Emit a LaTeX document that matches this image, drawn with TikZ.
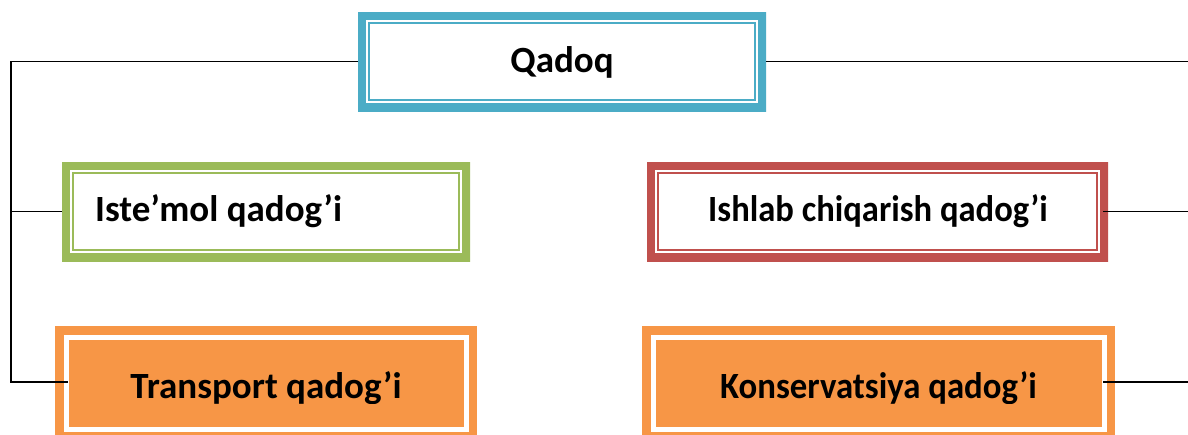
\documentclass[tikz,border=0pt]{standalone}
\usepackage{fontspec}
\setmainfont{Carlito}
\definecolor{cTeal}{HTML}{4BACC6}
\definecolor{cGreen}{HTML}{9BBB59}
\definecolor{cRed}{HTML}{C0504D}
\definecolor{cOrange}{HTML}{F79646}
\newcommand\myhs[2]{\scalebox{#1}[1]{#2}}
\begin{document}
\begin{tikzpicture}[x=1pt,y=-1pt,
  box/.style={inner sep=0pt,outer sep=0pt,minimum width=#1},
  dbl/.style={fill=white,minimum height=99pt,path picture={
    \draw[#1,line width=16pt] (path picture bounding box.north west) rectangle (path picture bounding box.south east);
    \draw[#1,line width=2pt] ([shift={(11pt,-11pt)}]path picture bounding box.north west) rectangle ([shift={(-11pt,11pt)}]path picture bounding box.south east);
  }},
  obox/.style={fill=cOrange,minimum height=114pt,path picture={
    \draw[white,line width=5pt] ([shift={(11pt,-11pt)}]path picture bounding box.north west) rectangle ([shift={(-11pt,11pt)}]path picture bounding box.south east);
  }},
  lbl/.style={anchor=base,inner sep=0pt,font=\fontsize{37}{40}\selectfont\bfseries},
  conn/.style={draw=black,line width=1.5pt}]
\clip (0,0) rectangle (1188,434);
\fill[white] (0,0) rectangle (1188,434);
% boxes
\node[box=408pt,dbl=cTeal] (qadoq) at (562,61.5) {};
\node[box=408pt,dbl=cGreen] (ist) at (266,211.5) {};
\node[box=461pt,dbl=cRed] (ish) at (877.5,211.5) {};
\node[box=422pt,obox] (trans) at (266,383) {};
\node[box=473pt,obox] (kons) at (878.5,383) {};
% labels
\node[lbl] (qadoqT) at (562,72) {Qadoq};
\node[lbl,anchor=base west] (istT) at (95,221) {Iste’mol qadog’i};
\node[lbl] (ishT) at (878,221) {\myhs{0.935}{Ishlab chiqarish qadog’i}};
\begin{scope}
\clip (0,0) rectangle (1188,403);
\node[lbl] (transT) at (266,398) {Transport qadog’i};
\node[lbl] (konsT) at (878.5,398) {\myhs{0.94}{Konservatsiya qadog’i}};
\end{scope}
% connectors
\coordinate (Lb) at (11,382);
\coordinate (Rb) at (1188,382);
\coordinate (Redge) at (1188,0);
\draw[conn] (qadoq.west) -| (Lb) -- ([xshift=13pt]Lb -| trans.west);
\draw[conn] (ist.west) -- (ist.west -| Lb);
\draw[conn] (qadoq.east) -- (qadoq.east -| Redge);
\draw[conn] ([xshift=-5pt]ish.east) -- (ish.east -| Redge);
\draw[conn] ([xshift=-12pt]kons.east |- Rb) -- (Rb);
\end{tikzpicture}
\end{document}
